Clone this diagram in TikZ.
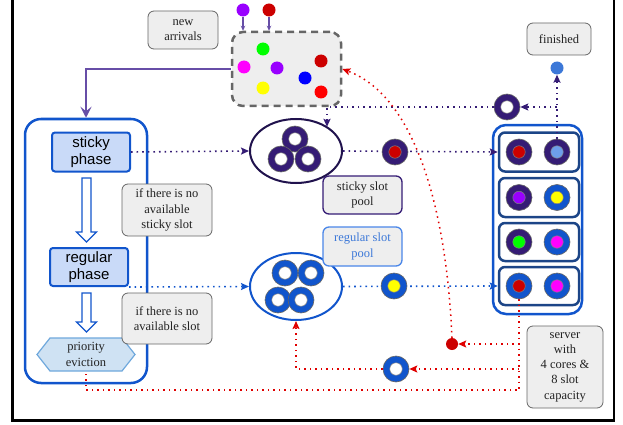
\documentclass[tikz,border=0pt]{standalone}
\usepackage{fontspec}
\setmainfont{Liberation Serif}
\setsansfont{Liberation Sans}
\usetikzlibrary{shapes.geometric,arrows.meta,calc}
\definecolor{dpur}{HTML}{351C75}
\definecolor{navy}{HTML}{20124D}
\definecolor{tblue}{HTML}{1155CC}
\definecolor{mpur}{HTML}{674EA7}
\definecolor{lgray}{HTML}{EEEEEE}
\definecolor{bgray}{HTML}{666666}
\definecolor{phasefill}{HTML}{C9DAF8}
\definecolor{hexfill}{HTML}{CFE2F3}
\definecolor{hexdraw}{HTML}{6FA8DC}
\definecolor{slotdraw}{HTML}{1C4587}
\definecolor{rred}{HTML}{E00000}
\definecolor{dred}{HTML}{CC0000}
\definecolor{cpurple}{HTML}{9900FF}
\definecolor{cgreen}{HTML}{00FF00}
\definecolor{cmag}{HTML}{FF00FF}
\definecolor{cyel}{HTML}{FFFF00}
\definecolor{cblue}{HTML}{0000FF}
\definecolor{cred}{HTML}{FF0000}
\definecolor{lblue}{HTML}{6D9EEB}
\definecolor{fblue}{HTML}{3C78D8}
\definecolor{rlabdraw}{HTML}{4A86E8}
\definecolor{txt}{HTML}{222222}
\newcommand\ringtok[5]{%
  \node[tok, fill=#4] (#1) at (#2,#3) {};
  \node[hole, fill=#5] at (#1.center) {};}
\newcommand\hollowarr[4]{%
  \draw[tblue, line width=1.3pt, fill=white, line join=miter]
    (#1-4.5,#2) -- (#1+4.5,#2) -- (#1+4.5,#3) -- (#1+10,#3) -- (#1,#4)
    -- (#1-10,#3) -- (#1-4.5,#3) -- cycle;}
\begin{document}
\begin{tikzpicture}[x=1pt,y=-1pt,
  note/.style={draw=bgray, fill=lgray, rounded corners=6pt, line width=0.8pt,
    align=center, inner sep=0pt, text=txt,
    font=\fontsize{12.5}{15.3}\selectfont},
  sz/.style 2 args={minimum width=#1, minimum height=#2},
  phase/.style={draw=tblue, fill=phasefill, rounded corners=3pt, line width=2pt,
    align=center, inner sep=0pt, font=\sffamily\fontsize{15}{17.3}\selectfont,
    minimum width=78pt, minimum height=39pt},
  tok/.style={circle, draw=bgray, line width=0.6pt, minimum size=26pt, inner sep=0pt},
  hole/.style={circle, draw=gray, line width=0.5pt, minimum size=12.5pt, inner sep=0pt},
  dot/.style={circle, minimum size=13pt, inner sep=0pt},
  pdot/.style={draw=dpur, line width=1.6pt, dash pattern=on 1.6pt off 4pt},
  bdot/.style={draw=tblue, line width=1.6pt, dash pattern=on 1.6pt off 4pt},
  rdot/.style={draw=rred, line width=1.5pt, dash pattern=on 1.5pt off 4pt},
  arrowtip/.style={-{Stealth[length=8pt,width=7pt,inset=1.5pt]}},
  slot/.style={draw=slotdraw, line width=2.5pt, rounded corners=6pt,
    minimum width=80pt, inner sep=0pt}]
\useasboundingbox (0,0) rectangle (623,425);
% frame
\draw[line width=2.5pt] (12.5,0) -- (12.5,420.5) -- (614,420.5) -- (614,0);

% new arrivals
\node[note, sz={70pt}{38pt}] (arrivals) at (183,30) {new\\arrivals};
\node[dot, fill=cpurple] (arr1) at (243,10) {};
\node[dot, fill=dred] (arr2) at (269,10) {};
\node[draw=bgray, dash pattern=on 7pt off 5pt, line width=2.5pt, fill=lgray,
  rounded corners=11pt, minimum width=109pt, minimum height=74pt] (pool) at (286.5,69) {};
\draw[mpur, line width=1.2pt, -{Stealth[length=5pt,width=4.5pt]}] (arr1.south) -- (arr1.south |- pool.north);
\draw[mpur, line width=1.2pt, -{Stealth[length=5pt,width=4.5pt]}] (arr2.south) -- (arr2.south |- pool.north);
\node[dot, fill=cgreen] (pg) at (263,49) {};
\node[dot, fill=cmag] (pm) at (244,67) {};
\node[dot, fill=cpurple] (pp) at (277,68) {};
\node[dot, fill=cyel] (py) at (263,88) {};
\node[dot, fill=cblue] (pb) at (305,78) {};
\node[dot, fill=dred] (pdr) at (321,61) {};
\node[dot, fill=cred] (pr) at (321,92) {};

% finished
\node[note, sz={64pt}{32pt}] (finished) at (559,39) {finished};
\node[dot, fill=fblue] (fdot) at (557,68) {};

% left big box
\node[draw=tblue, line width=2.5pt, rounded corners=16pt,
  minimum width=122pt, minimum height=264pt] (big) at (86,251) {};
\draw[mpur, line width=1.8pt, -{Stealth[length=11pt,width=11pt,inset=4.5pt]}] (pool.west) -| (big.north);
\node[phase] (sphase) at (91,152) {sticky\\phase};
\node[phase, minimum height=38pt] (rphase) at (89,267) {regular\\phase};
\hollowarr{86.5}{178}{232}{242}
\hollowarr{86.5}{293}{322}{332}
\draw[hexdraw, fill=hexfill, line width=1.2pt] (37,354.5) -- (50,338) -- (122,338)
  -- (135,354.5) -- (122,371) -- (50,371) -- cycle;
\node[align=center, inner sep=0pt, text=txt, minimum width=72pt, minimum height=33pt,
  font=\fontsize{12.5}{15.3}\selectfont] (hex) at (86,354.5) {priority\\eviction};
\node[note, sz={90pt}{52pt}] (cond1) at (167,210) {if there is no\\available\\sticky slot};
\node[note, sz={90pt}{51pt}] (cond2) at (167,318.5) {if there is no\\available slot};

% pools
\node[ellipse, draw=navy, line width=2pt, minimum width=92pt, minimum height=64pt,
  inner sep=0pt] (sellipse) at (296,151) {};
\node[ellipse, draw=tblue, line width=2pt, minimum width=92pt, minimum height=67pt,
  inner sep=0pt] (rellipse) at (296,286.5) {};
\node[note, draw=dpur, line width=1.3pt, sz={79pt}{38pt}] (slabel) at (362.5,195) {sticky slot\\pool};
\node[note, draw=rlabdraw, line width=1.3pt, text=fblue, sz={79pt}{39pt}] (rlabel) at (362.5,246.5) {regular slot\\pool};

% server
\node[draw=tblue, line width=2.5pt, rounded corners=13pt,
  minimum width=89pt, minimum height=189pt] (server) at (537.5,219.5) {};
\node[slot, minimum height=39pt] (slot1) at (539,152) {};
\node[slot, minimum height=39pt] (slot2) at (539,197.5) {};
\node[slot, minimum height=38pt] (slot3) at (539,242) {};
\node[slot, minimum height=38pt] (slot4) at (539,286) {};
\node[note, sz={76pt}{82pt}] (slabel2) at (565,367) {server\\with\\4 cores \&\\8 slot\\capacity};

% coordinates
\coordinate (rj) at (557,107);
\coordinate (ra) at (327,107);
\coordinate (rb) at (519,390);
\coordinate (rb1) at (519,344);
\coordinate (rb2) at (519,369);
\coordinate (re) at (86,390);
\coordinate (hexb) at (86,371);
\coordinate (rc) at (296,369);

% dotted connectors
\draw[pdot, arrowtip] (sphase.east) -- (sellipse.west);
\draw[pdot, arrowtip] (sellipse.east) -- (slot1.west);
\draw[bdot, arrowtip] (rphase.south east) -- (rellipse.west);
\draw[bdot, arrowtip] (rellipse.east) -- (slot4.west);
\draw[pdot, arrowtip] (557,139) -- (fdot.south);
\node[tok, fill=dpur] (retring) at (507,107) {};
\draw[pdot, arrowtip] (rj) -- (retring.east);
\draw[pdot, arrowtip] (retring.west) -- (ra) -- (ra |- sellipse.37);
\node[hole, fill=white] at (retring.center) {};

\node[dot, fill=dred, minimum size=12pt] (rdotn) at (452,344) {};
\node[tok, fill=tblue] (bring) at (396,369) {};
\draw[rdot] (519,299) -- (rb) -- (re) -- (hexb);
\draw[rdot, arrowtip] (rb1) -- (rdotn.east);
\draw[rdot, arrowtip] (rb2) -- (bring.east);
\draw[rdot, arrowtip] (bring.west) -- (rc) -- (rellipse.south);
\draw[rdot, arrowtip] (rdotn.north) .. controls (446,200) and (412,95) .. (pool.east);
\node[hole, fill=white] at (bring.center) {};

% tokens in pools
\ringtok{s1}{295}{139}{dpur}{white}
\ringtok{s2}{281}{159}{dpur}{white}
\ringtok{s3}{308}{159}{dpur}{white}
\ringtok{r1}{285}{273}{tblue}{white}
\ringtok{r2}{311}{273}{tblue}{white}
\ringtok{r3}{278}{300}{tblue}{white}
\ringtok{r4}{301}{300}{tblue}{white}

% moving tokens
\ringtok{mv1}{395}{152}{dpur}{dred}
\ringtok{mv2}{394}{286}{tblue}{cyel}

% server tokens
\ringtok{t1a}{519}{152}{dpur}{dred}
\ringtok{t1b}{557}{152}{dpur}{lblue}
\ringtok{t2a}{519}{197.5}{dpur}{cpurple}
\ringtok{t2b}{557}{197.5}{tblue}{cyel}
\ringtok{t3a}{519}{242}{dpur}{cgreen}
\ringtok{t3b}{557}{242}{tblue}{cmag}
\ringtok{t4a}{519}{286}{tblue}{dred}
\ringtok{t4b}{557}{286}{tblue}{cmag}
\end{tikzpicture}
\end{document}
